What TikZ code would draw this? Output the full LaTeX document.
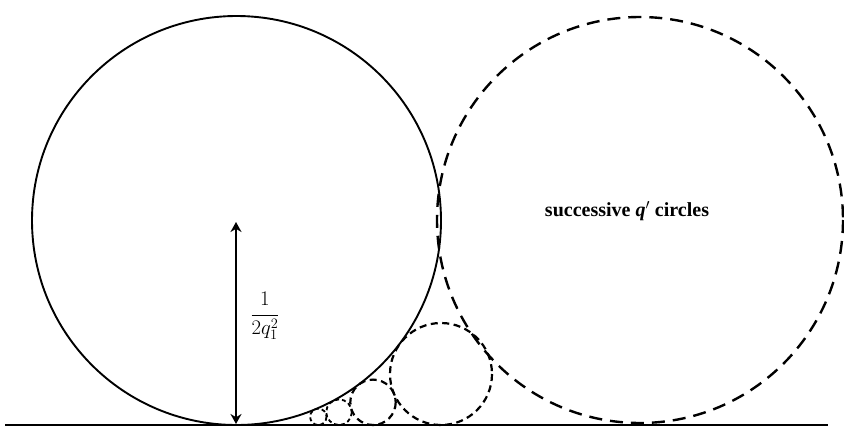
\documentclass[tikz,border=0pt]{standalone}
\usepackage{fontspec}
\setmainfont{Liberation Serif}
\usetikzlibrary{arrows.meta}
\begin{document}
\begin{tikzpicture}[x=1pt,y=-1pt,
  solidc/.style={line width=1.9pt},
  bigdash/.style={line width=2.4pt, dash pattern=on 13pt off 8pt},
  smalldash/.style={line width=2.2pt, dash pattern=on 7pt off 4.5pt},
  tinydash/.style={line width=1.8pt, dash pattern=on 4pt off 3pt},
  lbl/.style={inner sep=0pt}]
\useasboundingbox (0,0) rectangle (844,431);
% ground line
\coordinate (gl) at (5,425);
\coordinate (gr) at (828,425);
\draw[line width=1.9pt] (gl) -- (gr);
% main circle (q1)
\coordinate (c0) at (236.5,220.5);
\draw[solidc] (c0) circle[radius=204.5];
% successive q' circles
\coordinate (c1) at (640,220);
\draw[bigdash] (c1) circle[radius=203];
\coordinate (c2) at (441,374);
\draw[smalldash] (c2) circle[radius=51];
\coordinate (c3) at (373,402.3);
\draw[smalldash] (c3) circle[radius=22.7];
\coordinate (c4) at (339,412.2);
\draw[tinydash] (c4) circle[radius=12.8];
\coordinate (c5) at (318.3,416.8);
\draw[tinydash] (c5) circle[radius=8.2];
% radius arrow
\coordinate (rb) at (236,424);
\coordinate (rt) at (236,222);
\draw[line width=1.6pt, {Stealth[length=10pt,width=11pt]}-{Stealth[length=10pt,width=11pt]}] (rb) -- (rt);
\node[lbl, font=\fontsize{21}{24}\selectfont] (frac) at (265,316) {$\displaystyle\frac{1}{2q_1^2}$};
\node[lbl, font=\fontsize{20}{24}\selectfont\bfseries] (txt) at (627,211) {successive \textit{q}$'$ circles};
\end{tikzpicture}
\end{document}
